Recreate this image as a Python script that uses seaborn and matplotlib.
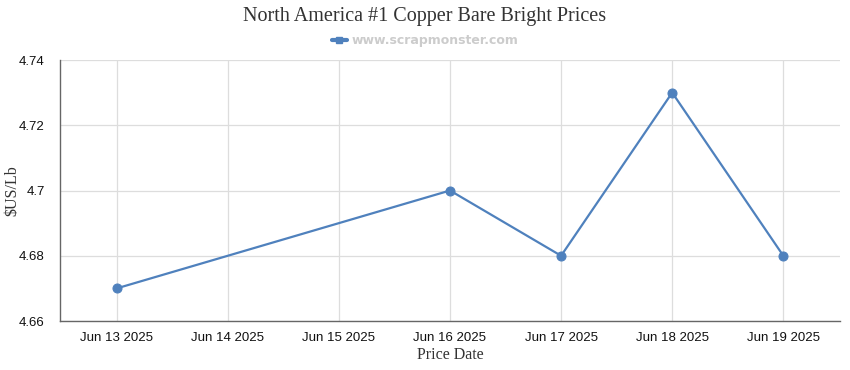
import pandas as pd
import numpy as np
import matplotlib
matplotlib.use('Agg')
import matplotlib.pyplot as plt
import matplotlib.dates as mdates
from matplotlib.lines import Line2D
import seaborn as sns

# ── Data ──────────────────────────────────────────────────────────────────────
tick_dates = ['2025-06-13', '2025-06-14', '2025-06-15', '2025-06-16',
              '2025-06-17', '2025-06-18', '2025-06-19']
price_dates = ['2025-06-13', '2025-06-16', '2025-06-17', '2025-06-18', '2025-06-19']
prices = [4.67, 4.70, 4.68, 4.73, 4.68]
y_ticks = [4.66, 4.68, 4.70, 4.72, 4.74]
y_tick_labels = ['4.66', '4.68', '4.7', '4.72', '4.74']

LINE_COLOR = '#4f81bd'

sns.set_style('white')
plt.rcParams['font.family'] = ['Liberation Sans', 'DejaVu Sans']

df = pd.DataFrame({'date': pd.to_datetime(price_dates), 'price': prices})
ticks = pd.to_datetime(tick_dates)

fig = plt.figure(figsize=(8.5, 3.7), dpi=100)
ax = fig.add_axes([0.0706, 0.1324, 0.9176, 0.7054])

sns.lineplot(data=df, x='date', y='price', ax=ax, color=LINE_COLOR,
             marker='o', markersize=6.5, markeredgecolor=LINE_COLOR,
             linewidth=1.6, zorder=3)

pad = pd.Timedelta(days=0.51)
ax.set_xlim(ticks[0] - pad, ticks[-1] + pad)
ax.set_xticks(ticks)
ax.xaxis.set_major_formatter(mdates.DateFormatter('%b %d %Y'))
ax.set_ylim(4.66, 4.74)
ax.set_yticks(y_ticks)
ax.set_yticklabels(y_tick_labels)

ax.grid(True, color='#dddddd', linewidth=0.9)
ax.set_axisbelow(True)
for s in ['top', 'right']:
    ax.spines[s].set_visible(False)
for s in ['left', 'bottom']:
    ax.spines[s].set_color('#666666')
    ax.spines[s].set_linewidth(1.0)
ax.tick_params(axis='both', which='major', color='#666666',
               labelsize=9.5, labelcolor='#111111', direction='out')
ax.tick_params(axis='x', length=6, pad=2)
ax.tick_params(axis='y', length=8, pad=3)

serif = ['Liberation Serif', 'DejaVu Serif']
ax.set_xlabel('Price Date', family=serif, fontsize=11.5, color='#333333', labelpad=2)
ax.set_ylabel('$US/Lb', family=serif, fontsize=11.5, color='#333333', va='center')
ax.yaxis.set_label_coords(-0.0615, 0.5)

fig.text(0.5, 0.955, 'North America #1 Copper Bare Bright Prices', family=serif,
         fontsize=14.5, color='#333333', ha='center', va='center')

handle = Line2D([], [], color=LINE_COLOR, marker='s', markersize=4, linewidth=3)
fig.legend([handle], ['www.scrapmonster.com'], loc='center', bbox_to_anchor=(0.5, 0.89),
           frameon=False, handlelength=1.2, handletextpad=0.4,
           prop={'family': 'DejaVu Sans', 'weight': 'bold', 'size': 9}, labelcolor='#cccccc')

plt.savefig('out.png', dpi=100)
plt.close()
